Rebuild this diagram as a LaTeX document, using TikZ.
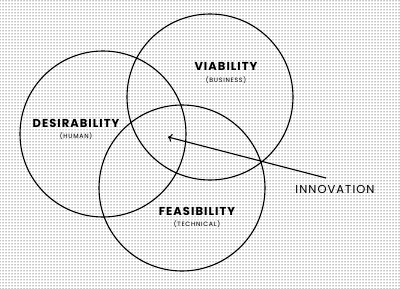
\documentclass[tikz,border=0pt]{standalone}
\usepackage{fontspec}
\setmainfont{Poppins}
\usetikzlibrary{patterns}
\usetikzlibrary{arrows.meta}

\begin{document}
\begin{tikzpicture}[x=1pt, y=-1pt,
venn/.style={circle, draw, line width=1.1pt, minimum size=166pt, inner sep=0pt},
area/.style={font=\bfseries\fontsize{11.5}{12}\selectfont\addfontfeature{LetterSpace=9}, inner sep=0pt},
sub/.style={font=\fontsize{6.2}{7}\selectfont\addfontfeature{LetterSpace=12}, inner sep=0pt}]
\fill[pattern=dots, pattern color=black] (0,0) rectangle (400,289);
\useasboundingbox (0,0) rectangle (400,289);
\node[venn] (desire) at (103,134) {};
\node[venn] (viable) at (210,97) {};
\node[venn] (feasible) at (182,188) {};
\node[area] (desirelabel) at (76,123) {DESIRABILITY};
\node[sub] (human) at (76,136) {(HUMAN)};
\node[area] (viablelabel) at (226,66) {VIABILITY};
\node[sub] (business) at (226,80) {(BUSINESS)};
\node[area] (feasiblelabel) at (197,211) {FEASIBILITY};
\node[sub] (technical) at (197,224) {(TECHNICAL)};
\node[font=\fontsize{11.5}{12}\selectfont\addfontfeature{LetterSpace=9}, inner sep=0pt] (innov) at (335,189) {INNOVATION};
\coordinate (tail) at (326,178);
\coordinate (core) at (168,137);
\draw[-{To[length=4pt,width=8pt]}, line width=1.1pt] (tail) -- (core);
\end{tikzpicture}
\end{document}
